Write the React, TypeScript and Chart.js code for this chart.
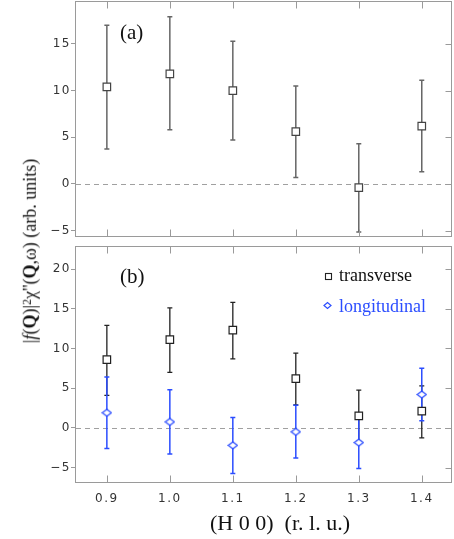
import React, { useEffect, useRef } from 'react';
import { Chart, registerables } from 'chart.js';
Chart.register(...registerables);

// ---- data ----
const hValues = [0.9, 1.0, 1.1, 1.2, 1.3, 1.4];
const xTickLabels = ['0.9', '1.0', '1.1', '1.2', '1.3', '1.4'];
const yTicksA = [-5, 0, 5, 10, 15];
const yTicksB = [-5, 0, 5, 10, 15, 20];

const transA = [10.4, 11.8, 10.0, 5.6, -0.4, 6.2];
const transAHigh = [17.0, 17.9, 15.3, 10.5, 4.3, 11.1];
const transALow = [3.75, 5.8, 4.7, 0.7, -5.15, 1.3];

const transB = [8.6, 11.1, 12.3, 6.2, 1.5, 2.1];
const transBHigh = [12.9, 15.1, 15.8, 9.4, 4.75, 5.3];
const transBLow = [4.1, 7.0, 8.7, 2.9, -1.7, -1.25];

const longB = [1.9, 0.75, -2.2, -0.5, -1.85, 4.2];
const longBHigh = [6.4, 4.8, 1.3, 2.85, 1.45, 7.5];
const longBLow = [-2.6, -3.3, -5.75, -3.8, -5.1, 0.9];

const seriesNames = ['transverse', 'longitudinal'];
const panelLabels = ['(a)', '(b)'];

// ---- styles ----
const FRAME = '#9a9a9a';
const TICK_FONT = { family: 'DejaVu Sans', size: 12 };
const SERIF = '"Liberation Serif", "Times New Roman", serif';
const BLUE = '#2b4dff';

function makeDiamond(color: string) {
  const c = document.createElement('canvas');
  c.width = 11;
  c.height = 9;
  const g = c.getContext('2d')!;
  g.strokeStyle = color;
  g.fillStyle = '#fff';
  g.lineWidth = 1.3;
  g.beginPath();
  g.moveTo(1, 4.5);
  g.lineTo(5.5, 1);
  g.lineTo(10, 4.5);
  g.lineTo(5.5, 8);
  g.closePath();
  g.fill();
  g.stroke();
  return c;
}

function panelPlugin(label: string, yTicks: number[], legend: boolean) {
  return {
    id: 'panel' + label,
    beforeDraw(chart: any) {
      chart.ctx.letterSpacing = '1.5px';
    },
    beforeDatasetsDraw(chart: any) {
      const { ctx, chartArea: a, scales } = chart;
      const xs = scales.x, ys = scales.y;
      ctx.save();
      ctx.letterSpacing = '0px';
      // zero line
      const y0 = Math.round(ys.getPixelForValue(0)) + 0.5;
      ctx.strokeStyle = '#a0a0a0';
      ctx.lineWidth = 1;
      ctx.setLineDash([5, 4]);
      ctx.beginPath();
      ctx.moveTo(a.left, y0);
      ctx.lineTo(a.right, y0);
      ctx.stroke();
      ctx.setLineDash([]);
      // error bars
      chart.data.datasets.forEach((ds: any) => {
        if (!ds.errLow) return;
        ctx.strokeStyle = ds.errColor;
        ctx.lineWidth = ds.errWidth;
        ds.data.forEach((p: any, i: number) => {
          const x = xs.getPixelForValue(p.x);
          const yl = ys.getPixelForValue(ds.errLow[i]);
          const yh = ys.getPixelForValue(ds.errHigh[i]);
          ctx.beginPath();
          ctx.moveTo(x, yl);
          ctx.lineTo(x, yh);
          ctx.moveTo(x - 2.5, yl);
          ctx.lineTo(x + 2.5, yl);
          ctx.moveTo(x - 2.5, yh);
          ctx.lineTo(x + 2.5, yh);
          ctx.stroke();
        });
      });
      ctx.restore();
    },
    afterDraw(chart: any) {
      const { ctx, chartArea: a, scales } = chart;
      const xs = scales.x, ys = scales.y;
      ctx.save();
      ctx.letterSpacing = '0px';
      const L = Math.round(a.left) - 0.5, R = Math.round(a.right) - 0.5;
      const T = Math.round(a.top) + 0.5, B = Math.round(a.bottom) - 0.5;
      ctx.strokeStyle = FRAME;
      ctx.lineWidth = 1;
      ctx.strokeRect(L, T, R - L, B - T);
      ctx.beginPath();
      hValues.forEach((v) => {
        const x = Math.round(xs.getPixelForValue(v)) + 0.5;
        ctx.moveTo(x, T);
        ctx.lineTo(x, T + 7);
        ctx.moveTo(x, B);
        ctx.lineTo(x, B - 7);
      });
      yTicks.forEach((v) => {
        const y = Math.round(ys.getPixelForValue(v)) + 0.5;
        ctx.moveTo(R, y);
        ctx.lineTo(R - 6, y);
      });
      ctx.stroke();
      // panel label
      ctx.fillStyle = '#111';
      ctx.font = '21px ' + SERIF;
      ctx.textAlign = 'left';
      ctx.textBaseline = 'alphabetic';
      ctx.fillText(label, 120, legend ? 43 : 39);
      if (legend) {
        ctx.font = '18px ' + SERIF;
        // transverse
        ctx.strokeStyle = '#222';
        ctx.lineWidth = 1.1;
        ctx.strokeRect(325.5, 273.5 - 240, 6, 6);
        ctx.fillStyle = '#111';
        ctx.fillText(seriesNames[0], 339, 281 - 240);
        // longitudinal
        ctx.strokeStyle = BLUE;
        ctx.lineWidth = 1.2;
        ctx.beginPath();
        ctx.moveTo(324, 305.5 - 240);
        ctx.lineTo(327.5, 302.5 - 240);
        ctx.lineTo(331, 305.5 - 240);
        ctx.lineTo(327.5, 308.5 - 240);
        ctx.closePath();
        ctx.stroke();
        ctx.fillStyle = BLUE;
        ctx.fillText(seriesNames[1], 339, 312 - 240);
      }
      ctx.restore();
    },
  };
}

const yTickOpts = {
  font: TICK_FONT,
  color: '#333',
  padding: 0,
  callback: (v: any) => String(v).replace('-', '\u2212'),
};

const fitY = (s: any) => {
  s.width = 76;
  s.paddingTop = 0;
  s.paddingBottom = 0;
};

export default function App() {
  const topRef = useRef<HTMLCanvasElement>(null);
  const botRef = useRef<HTMLCanvasElement>(null);

  useEffect(() => {
    const diamond = makeDiamond(BLUE);
    const top = new Chart(topRef.current!, {
      type: 'scatter',
      data: {
        datasets: [
          {
            label: seriesNames[0],
            data: hValues.map((x, i) => ({ x, y: transA[i] })),
            pointStyle: 'rect',
            pointRadius: 5.3,
            borderColor: '#444',
            backgroundColor: '#fff',
            borderWidth: 1.2,
            errLow: transALow,
            errHigh: transAHigh,
            errColor: '#666',
            errWidth: 1.5,
          } as any,
        ],
      },
      options: {
        animation: false,
        responsive: false,
        events: [],
        layout: { autoPadding: false, padding: { top: 1, bottom: 3, right: 2, left: 0 } },
        plugins: { legend: { display: false }, tooltip: { enabled: false } },
        scales: {
          x: { type: 'linear', display: false, min: 0.851, max: 1.448 },
          y: {
            type: 'linear',
            min: -5.68,
            max: 19.6,
            afterBuildTicks: (s: any) => {
              s.ticks = yTicksA.map((v) => ({ value: v }));
            },
            afterFit: fitY,
            ticks: yTickOpts as any,
            grid: { drawOnChartArea: false, tickLength: 5, color: FRAME },
            border: { display: false },
          },
        },
      },
      plugins: [panelPlugin(panelLabels[0], yTicksA, false)],
    });

    const bot = new Chart(botRef.current!, {
      type: 'scatter',
      data: {
        datasets: [
          {
            label: seriesNames[0],
            data: hValues.map((x, i) => ({ x, y: transB[i] })),
            pointStyle: 'rect',
            pointRadius: 5.3,
            borderColor: '#222',
            backgroundColor: '#fff',
            borderWidth: 1.2,
            errLow: transBLow,
            errHigh: transBHigh,
            errColor: '#222',
            errWidth: 1.3,
          } as any,
          {
            label: seriesNames[1],
            data: hValues.map((x, i) => ({ x, y: longB[i] })),
            pointStyle: diamond,
            pointRadius: 5,
            borderColor: BLUE,
            backgroundColor: '#fff',
            errLow: longBLow,
            errHigh: longBHigh,
            errColor: BLUE,
            errWidth: 1.5,
          } as any,
        ],
      },
      options: {
        animation: false,
        responsive: false,
        events: [],
        layout: { autoPadding: false, padding: { top: 6, bottom: 0, right: 2, left: 0 } },
        plugins: { legend: { display: false }, tooltip: { enabled: false } },
        scales: {
          x: {
            type: 'linear',
            min: 0.851,
            max: 1.448,
            afterBuildTicks: (s: any) => {
              s.ticks = hValues.map((v) => ({ value: v }));
            },
            afterFit: (s: any) => {
              s.height = 56;
              s.paddingLeft = 0;
              s.paddingRight = 0;
            },
            ticks: {
              font: TICK_FONT,
              color: '#333',
              padding: 9,
              maxRotation: 0,
              autoSkip: false,
              callback: (_v: any, i: number) => xTickLabels[i],
            },
            grid: { display: false, drawTicks: false },
            border: { display: false },
          },
          y: {
            type: 'linear',
            min: -6.94,
            max: 22.9,
            afterBuildTicks: (s: any) => {
              s.ticks = yTicksB.map((v) => ({ value: v }));
            },
            afterFit: fitY,
            ticks: yTickOpts as any,
            grid: { drawOnChartArea: false, tickLength: 5, color: FRAME },
            border: { display: false },
          },
        },
      },
      plugins: [panelPlugin(panelLabels[1], yTicksB, true)],
    });

    return () => {
      top.destroy();
      bot.destroy();
    };
  }, []);

  return (
    <div
      style={{
        position: 'absolute',
        left: 0,
        top: 0,
        width: 454,
        height: 539,
        background: '#fff',
        overflow: 'hidden',
      }}
    >
      <canvas ref={topRef} width={454} height={240} style={{ position: 'absolute', left: 0, top: 0 }} />
      <canvas ref={botRef} width={454} height={299} style={{ position: 'absolute', left: 0, top: 240 }} />
      <div
        style={{
          position: 'absolute',
          left: 30,
          top: 251,
          transform: 'translate(-50%, -50%) rotate(-90deg)',
          whiteSpace: 'nowrap',
          font: '18px ' + SERIF,
          color: '#111',
          lineHeight: 1,
        }}
      >
        |<i>f</i>(<b>Q</b>)|
        <span style={{ fontSize: 12, verticalAlign: '0.45em' }}>2</span>
        χ''(<b>Q</b>,ω) (arb. units)
      </div>
      <div
        style={{
          position: 'absolute',
          left: 280,
          top: 523,
          transform: 'translate(-50%, -50%)',
          whiteSpace: 'pre',
          font: '22px ' + SERIF,
          color: '#111',
          lineHeight: 1,
        }}
      >
        {'(H 0 0)  (r. l. u.)'}
      </div>
    </div>
  );
}
